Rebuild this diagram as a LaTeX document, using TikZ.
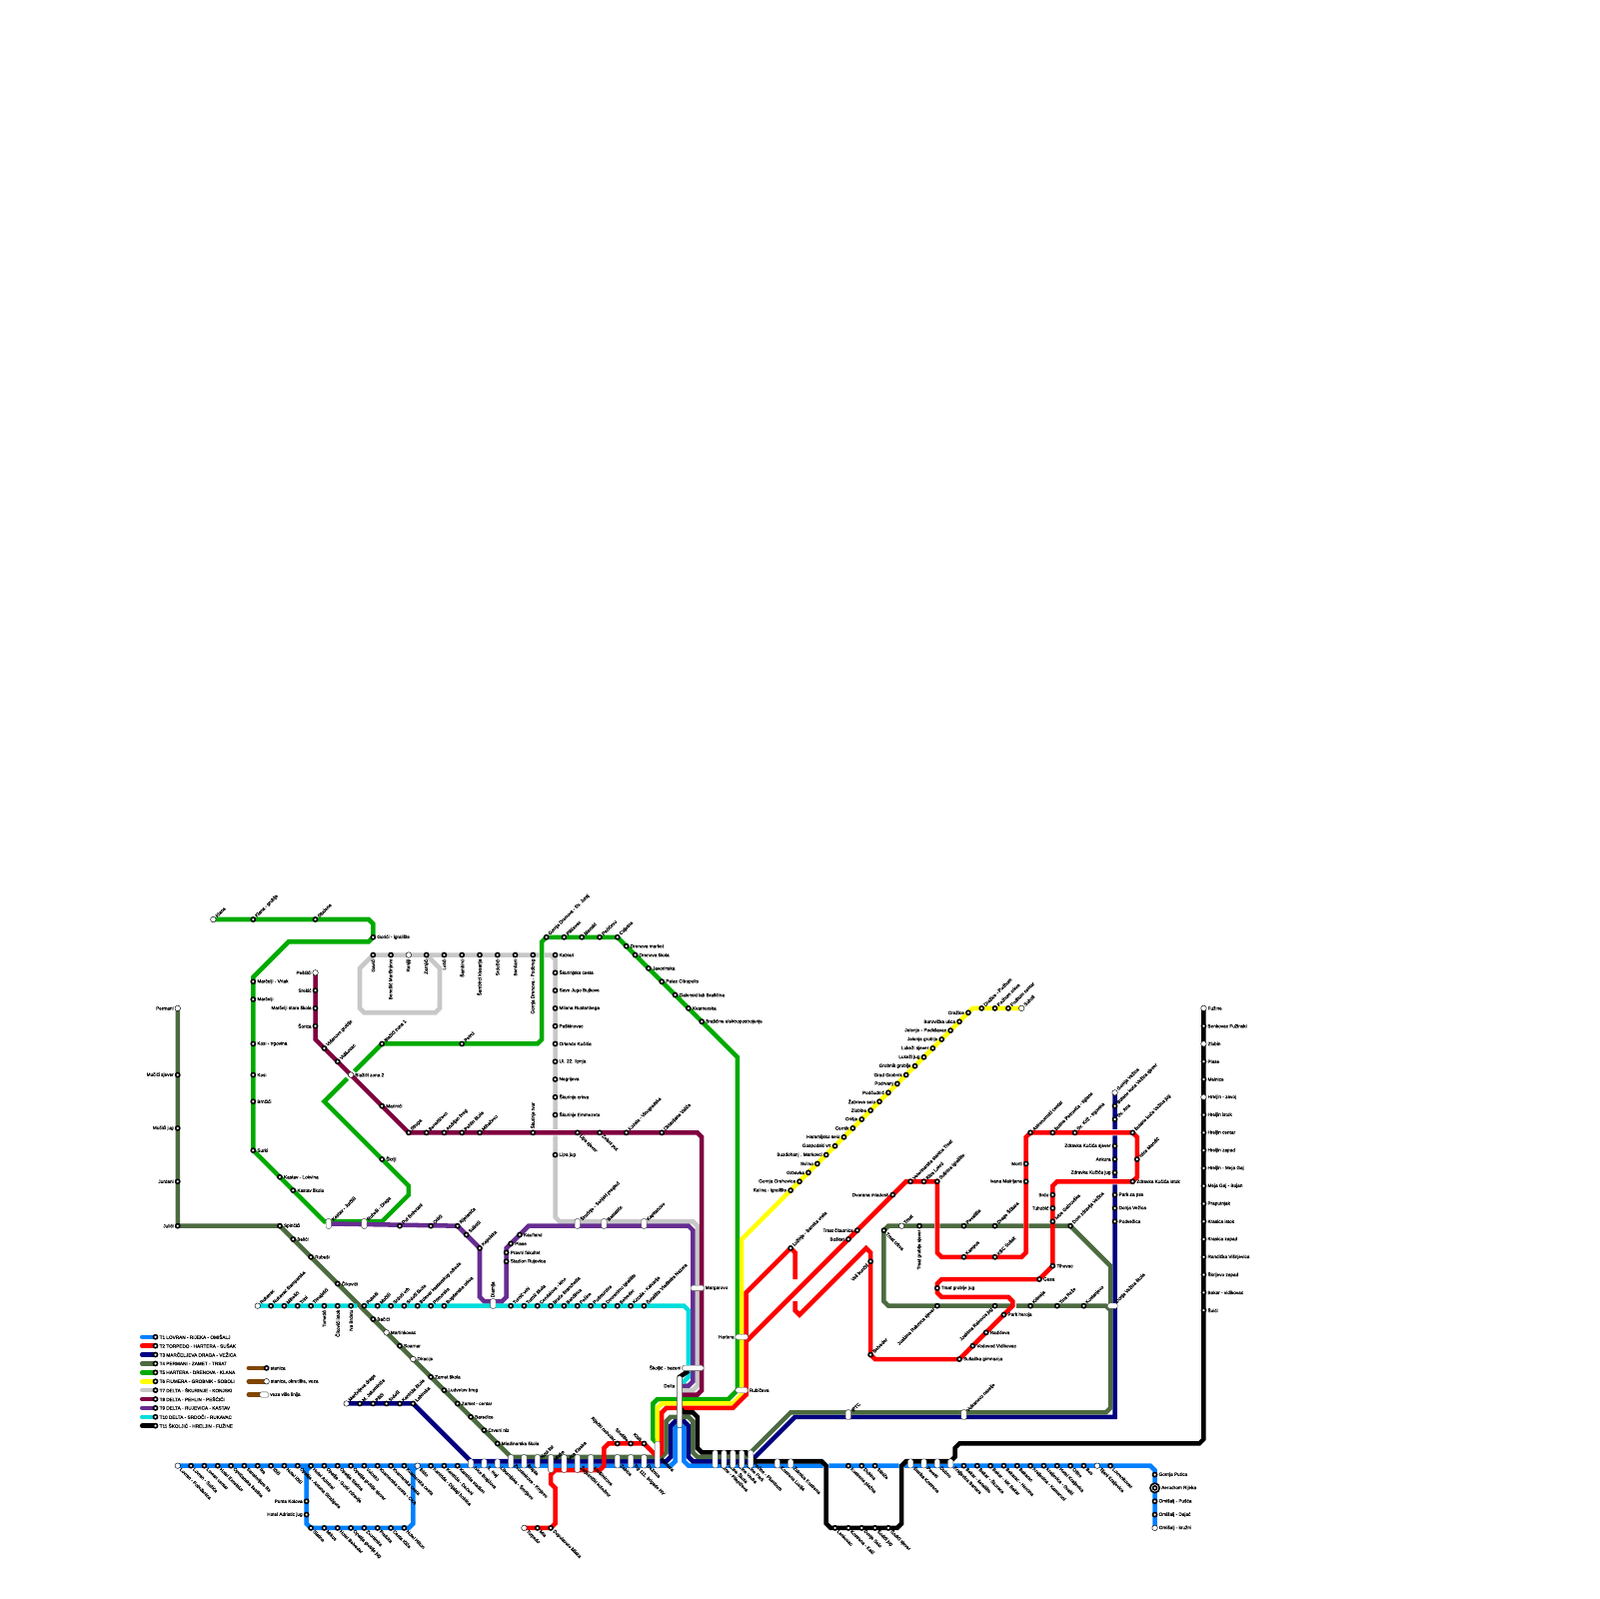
\documentclass[tikz,border=0pt]{standalone}
\usepackage{fontspec}
\setmainfont{Liberation Sans}
\newfontfamily\lblfont{Liberation Sans}[FakeBold=0.35]
\usetikzlibrary{backgrounds}
\definecolor{tone}{HTML}{0080FF}
\definecolor{ttwo}{HTML}{FF0000}
\definecolor{tthree}{HTML}{000080}
\definecolor{tfour}{HTML}{4C6B40}
\definecolor{tfive}{HTML}{00AA00}
\definecolor{tsix}{HTML}{FFFF00}
\definecolor{tseven}{HTML}{C8C8C8}
\definecolor{teight}{HTML}{800040}
\definecolor{tnine}{HTML}{662D91}
\definecolor{tten}{HTML}{00DDDD}
\definecolor{televen}{HTML}{000000}
\definecolor{legbrown}{HTML}{804500}
\tikzset{
    stop/.style={circle,draw=black,fill=white,line width=.36mm,minimum size=.92mm,inner sep=0},
    endstop/.style={stop,line width=.1mm,minimum size=1.25mm},
    pill/.style={rectangle,rounded corners=.35mm,draw=black!70,line width=.09mm,fill=white,inner sep=0},
    vpill/.style={pill,minimum width=1.2mm,minimum height=#1 mm},
    hpill/.style={pill,minimum height=1.2mm,minimum width=#1 mm},
    lab/.style={font=\lblfont\fontsize{3}{3.4}\selectfont,inner sep=.2mm,text=black},
    lE/.style={label={[lab]0:#1}},
    lW/.style={label={[lab]180:#1}},
    lNE/.style={label={[lab,rotate=45,anchor=west]45:#1}},
    lSE/.style={label={[lab,rotate=-45,anchor=west]-45:#1}},
    lSW/.style={label={[lab,rotate=45,anchor=east]225:#1}},
    lNW/.style={label={[lab,rotate=-45,anchor=east]135:#1}},
    lU/.style={label={[lab,rotate=90,anchor=west]90:#1}},
    lD/.style={label={[lab,rotate=90,anchor=east]-90:#1}},
    line/.style={line width=1.02mm}
}
\begin{document}
\begin{tikzpicture}[x=1mm,y=-1mm]
    \useasboundingbox (0,0) rectangle (360,360);

    % T1 stops
    \node[endstop,lSE={Lovran - Pobrđenica}] (s40-330) at (40,330) {};
    \foreach \px/\txt in {43/Lovran - Sučića,46/Lovran centar,49/Hotel Excelsior,52/Oprićanska šestina,55/Sanatorijum Ike,58/Ika,61/Ičići,64/Hotel Ičići,67/Opatija - Antona Stražgora,70/Hotel Admiral,73/Opatija - Gorić zdravlje,76/Opatija Slatina,79/Opatija groblje sjever,82/Volosko,85/Kvarnerska cesta - CKA,88/Kvarnerska cesta,91/Kvarnerska cesta,97/Kantrida - Dijalaji bolnica,100/Kantrida - Dećeni,103/Kantrida stadion,191/Kostrena plažna,194/Dubina,197/Stiniče,217/Bakar - šetalište,220/Bakar - Škoraca,223/Bakar - NK Bakar,226/Bakarac - Hercina,229/Bakarac,232/Kraljevica - Kamaroni,235/Kraljevica - Svalić,238/Hotel Kraljevica,241/Oštro,244/Bos,250/Lovrenkovac}
        \node[stop,lSE=\txt] (s\px-330) at (\px,330) {};
    \node[endstop,lSE=Bivio] (s94-330) at (94,330) {};
    \node[endstop,lSE=Tijani Kraljevica] (s247-330) at (247,330) {};
    \foreach \py/\txt in {338/Punta Kolova,341/Hotel Adriatic jug}
        \node[stop,lW=\txt] (s69-\py) at (69,\py) {};
    \foreach \px/\txt in {70/Slatina,73/Mrkus,76/Hotel Belveder,79/Opatija groblje jug,82/Zvonimira,85/Preluka,88/Cesta Ičića,91/Hotel Hilton}
        \node[stop,lSE=\txt] (s\px-344) at (\px,344) {};
    \foreach \py/\txt in {332/Gornja Putica,338/Omišalj - Pušća,341/Omišalj - Dajać}
        \node[stop,lE=\txt] (s260-\py) at (260,\py) {};
    \node[endstop,lE=Omišalj - kružni] (s260-344) at (260,344) {};
    \node[stop,minimum size=2.1mm,lE=Aerodrom Rijeka] (s260-335) at (260,335) {};
    \node[stop,fill=white,minimum size=.9mm] (s260-335i) at (260,335) {};

    % T2 stops
    \foreach \px/\py/\txt in {205/266/Veterinarska stanica Trsat,208/266/Riva Lokrd,211/266/Sušnica igralište,232/255/Astronomski centar,237/255/Butine Petrovića - tiglane,242/255/Sv. Križ - trgovina,255/255/Butane kuća Vežica jug,256/261/Ivice Mandić,178/281/Lužinje - Banska vrata,196/305/Belveder,217/283/Kampus,224/283/KBC Sušak}
        \node[stop,lNE=\txt] (s\px-\py) at (\px,\py) {};
    \foreach \px/\py/\txt in {255/266/Zdravka Kučića istok,237/285/Tihovac,234/288/Gesa,211/290/Trsat groblje jug,226/296/Park heroja,222/300/Radićeva,219/303/Vodovod Vidikovac,216/306/Sušačka gimnazija}
        \node[stop,lE=\txt] (s\px-\py) at (\px,\py) {};
    \foreach \px/\py/\txt in {201/269/Dvorana mladosti,193/277/Trsat čitaonica,191/279/Bošket,231/262/Morti,231/266/Ivana Matrljana,237/269/Brdo,237/272/Tuhobić}
        \node[stop,lW=\txt] (s\px-\py) at (\px,\py) {};
    \node[stop,lSW=Veli bunčić] (s196-284) at (196,284) {};
    \foreach \px/\txt in {139/Riječki neboder,142/Sirotište,145/Kisik}
        \node[stop,lNW=\txt] (s\px-325) at (\px,325) {};
    \node[endstop,lSE=Torpedo] (s118-344) at (118,344) {};
    \foreach \px/\txt in {121/Mia,124/Dopolavoro Mlaka}
        \node[stop,lSE=\txt] (s\px-344) at (\px,344) {};

    % T3 stops
    \node[endstop,lNE=Marčeljeva draga] (s78-316) at (78,316) {};
    \foreach \px/\txt in {81/M. Jakominića,84/Pilići,87/Srdoči,90/Kantrida škola,93/Labinska}
        \node[stop,lNE=\txt] (s\px-316) at (\px,316) {};
    \node[endstop,lNE=Gornja Vežica] (s251-246) at (251,246) {};
    \node[stop,lNE=Butane kuća Vežica sjever] (s251-249) at (251,249) {};
    \node[stop,lNE=Sv. Ana] (s251-252) at (251,252) {};
    \foreach \py/\txt in {258/Zdravka Kučića sjever,261/Ankora,264/Zdravka Kučića jug}
        \node[stop,lW=\txt] (s251-\py) at (251,\py) {};
    \foreach \py/\txt in {269/Park za pse,272/Donja Vežica,275/Podvežica}
        \node[stop,lE=\txt] (s251-\py) at (251,\py) {};

    % T4 stops
    \node[endstop,lW=Permani] (s40-227) at (40,227) {};
    \foreach \py/\txt in {242/Mučići sjever,254/Mučići jug,266/Jurdani,276/Julići}
        \node[stop,lW=\txt] (s40-\py) at (40,\py) {};
    \foreach \px/\py/\txt in {63/276/Spinčići,66/279/Belići,70/283/Rubeši,76/289/Čikovići,84/297/Bačići,90/303/Soarnar,97/310/Zamet škola,100/313/Ludvetov breg,103/316/Zamet - centar,106/319/Baredice,109/322/Crveni niz,112/325/Mladinarska škola}
        \node[stop,lE=\txt] (s\px-\py) at (\px,\py) {};
    \node[endstop,lE=Martinkovac] (s87-300) at (87,300) {};
    \node[endstop,lE=Diracije] (s93-306) at (93,306) {};
    \foreach \px/\py/\txt in {244/294/Kostanjevo,238/294/Tina Reže,232/294/Krimeja,217/276/Pevalište,224/276/Drage Ščitara,237/275/Ivice Gabrovška,241/276/Dom zdravlja Vežica}
        \node[stop,lNE=\txt] (s\px-\py) at (\px,\py) {};
    \node[stop,lSW=Joakima Rakovca sjever] (s211-294) at (211,294) {};
    \node[stop,lSW=Joakima Rakovca jug] (s224-294) at (224,294) {};
    \node[endstop,lNE=Trsat] (s203-276) at (203,276) {};
    \node[stop,lSE=Trsat crkva] (s199-277) at (199,277) {};
    \node[stop,lD=Trsat groblje sjever] (s207-276) at (207,276) {};

    % T5 stops
    \node[endstop,lNE=Klana] (s48-207) at (48,207) {};
    \foreach \px/\py/\txt in {57/207/Klana - groblje,71/207/Studena,86/235/Blažići zona 1,104/235/Petrci,123/211/Gornja Drenova - Sv. Juraj,127/211/Pilićevac,131/211/Blenski,135/211/Pećićevo,139/211/Cvijetna}
        \node[stop,lNE=\txt] (s\px-\py) at (\px,\py) {};
    \foreach \px/\py/\txt in {84/211/Gorići - igralište,57/221/Marčelji - Vrtak,57/225/Marčelji,57/235/Kosi - trgovina,57/242/Kosi,57/248/Brnčići,57/259/Surki,63/265/Kastav - Lokvina,66/268/Kastav škola,86/261/Škrlji,141/213/Drenova market,143/215/Drenova škola,146/218/Javorinska,149/221/Palac Citropolis,152/224/Galenski lab Brašćina,155/227/Kvarnerska,158/230/Brašćine elektropostrojenje}
        \node[stop,lE=\txt] (s\px-\py) at (\px,\py) {};

    % T6 stops
    \foreach \px/\py/\txt in {178/268/Kalina - igralište,180/266/Gornja Orehovica,182/264/Grbavka,184/262/Svilno,186/260/Buzdohanj . Markovci,188/258/Gospodski vrt,190/256/Haramijsko selo,192/254/Cernik,194/252/Orišje,196/250/Zlobine,198/248/Žabreve selo,200/246/Podčudnić,202/244/Podrvanj,204/242/Grad Grobnik,206/240/Grobnik groblje,208/238/Lukeži jug,210/236/Lukeži sjever,212/234/Jelenje groblje,214/232/Jelenje - Podkilavac,216/230/Borovička ulica,218/228/Dražice}
        \node[stop,lW=\txt] (s\px-\py) at (\px,\py) {};
    \foreach \px/\txt in {221/Dražice - Podhum,224/Podhum crkva,227/Podhum centar}
        \node[stop,lNE=\txt] (s\px-227) at (\px,227) {};
    \node[endstop,lNE=Soboli] (s230-227) at (230,227) {};

    % T7 stops
    \foreach \px/\txt in {84/Gavići,88/Benešić Marčinjevo,96/Zarnjići,100/Lotići,104/Šambirci,108/Šambirci klesarija,112/Srdočići,116/Benčani,120/Gornja Drenova - Podbreg}
        \node[stop,lD=\txt] (s\px-215) at (\px,215) {};
    \node[endstop,lD=Ranjiji] (s92-215) at (92,215) {};
    \foreach \py/\txt in {215/Kablari,219/Škurinjska cesta,223/Save Jugo Bujkove,227/Milana Rustanbega,231/Paškinovac,235/Orlando Kučića,239/Ul. 22. lipnja,243/Negrijeva,247/Škurinje crkva,251/Škurinje Emmezeta,260/Lipa jug}
        \node[stop,lE=\txt] (s125-\py) at (125,\py) {};

    % T8 stops
    \node[endstop,lW=Pešćići] (s71-219) at (71,219) {};
    \foreach \py/\txt in {223/Srekić,227/Marčelji stara škola,231/Šorica}
        \node[stop,lW=\txt] (s71-\py) at (71,\py) {};
    \foreach \px/\py/\txt in {73/236/Vidanovo groblje,76/239/Vidikovac,92/255/Struga,96/255/Benettićevo,100/255/Andrijan breg,104/255/Pehlin škola,108/255/Mihačevo,141/255/Kozala - Vinogradska,149/255/Oktavijana Valića}
        \node[stop,lNE=\txt] (s\px-\py) at (\px,\py) {};
    \node[endstop,lE=Blažići zona 2] (s79-242) at (79,242) {};
    \node[stop,lE=Marinići] (s86-249) at (86,249) {};
    \node[stop,lU=Škurinje tvor] (s120-255) at (120,255) {};
    \node[stop,lSE=Lipa sjever] (s130-255) at (130,255) {};
    \node[stop,lSE=Zeleni put] (s135-255) at (135,255) {};

    % T9 stops
    \foreach \px/\py/\txt in {90/276/Put Bobetani,97/276/Orlići,103/276/Rijetanića,105/278/Svilnići,108/281/Kapelska}
        \node[stop,lNE=\txt] (s\px-\py) at (\px,\py) {};
    \foreach \px/\py/\txt in {114/284/Stadion Rujevica,114/282/Pravni fakultet,115/280/Plase,117/278/Kaufland}
        \node[stop,lE=\txt] (s\px-\py) at (\px,\py) {};

    % T10 stops
    \node[endstop,lNE=Rukavac] (s58-294) at (58,294) {};
    \foreach \px/\txt in {61/Rukavac štamparska,64/Mihelići,67/Trini,70/Trinajstići,82/Rubeši,85/Mučići,88/Srdoči vrh,91/Srdoči škola,94/Bulevar kastavskog odreda,97/Primorska,100/Bogdanska crkva,115/Turnić vrhi,118/Turnić škola,121/Cendalova - kino,124/Braće Branchetta,127/Bandirica,130/Pećine,133/Podmurvice,136/Dvoranimo igralište,139/Belveder,142/Kozala - Kalvarija,145/Šetalište Vladimira Nazora}
        \node[stop,lNE=\txt] (s\px-294) at (\px,294) {};
    \foreach \px/\txt in {73/Tometići,76/Čikovići istok,79/Na Brdetu}
        \node[stop,lD=\txt] (s\px-294) at (\px,294) {};

    % T11 stops
    \node[endstop,lE=Fužine] (s271-227) at (271,227) {};
    \foreach \py/\txt in {231/Benkovac Fužinski,239/Plase,243/Melnice,251/Hreljin istok,255/Hreljin centar,259/Hreljin zapad,263/Hreljin - Meja Gaj,267/Meja Gaj - Bujan,271/Praputnjak,275/Krasica istok,279/Krasica zapad,283/Randićka Višnjevica,287/Škrljevo zapad,291/Bakar - vidikovac,295/Šoići}
        \node[stop,lE=\txt] (s271-\py) at (271,\py) {};
    \node[endstop,lE=Zlobin] (s271-235) at (271,235) {};
    \node[endstop,lE=Hreljin - zavoj] (s271-247) at (271,247) {};
    \foreach \px/\txt in {188/Lenkovac,191/Kostrena - Kaić,194/Donje Selo,197/Šodići jug,200/Šodići sjever}
        \node[stop,lSE=\txt] (s\px-344) at (\px,344) {};

    % Transfer pills
    \node[vpill=2.2,lNE=Kastav - Jurčići] (p74) at (74,275.5) {};
    \node[vpill=2.2,lNE=Rubeši - Draga] (p82) at (82,275.5) {};
    \foreach \px/\txt in {130/Škurinje - Senjski pregled,136/Bastatiće,145/Kapitanovo}
        \node[vpill=2.2,lNE=\txt] (p\px) at (\px,275.5) {};
    \node[vpill=2.2,lU=Diamija] (p111) at (111,293.5) {};
    \node[hpill=3,lE=Margarovo] (p157) at (157,290) {};
    \node[hpill=2.8,lW=Hartera] (p167a) at (167,301) {};
    \node[hpill=2.8,lE=Rubičeva] (p167b) at (167,313) {};
    \node[hpill=4.8,lW={Školjić - bazeni}] (p156) at (156,308) {};
    \node[vpill=11.6] (p153) at (153,315.6) {};
    \node[lab,anchor=east] (deltalab) at (152.2,312) {Delta};
    \node[hpill=2.2,lNE=Donja Vežica škola] (p250) at (250.5,294) {};
    \node[vpill=2.2,lNE=IPTC] (p191) at (191,318.5) {};
    \node[vpill=2.2,lNE=Vulkanovo naselje] (p217) at (217,318.5) {};
    \foreach \px/\txt in {106/Ivice Brajdova,109/3. maj,112/Liburnijska - Šmrijevo,175/Kostrena Lucija,178/Žuknica Kostrena,205/Šmrika Kostrena,208/Paveki,211/Dubno}
        \node[vpill=2,lSE=\txt] (p\px) at (\px,329.5) {};
    \node[vpill=2,lSE=Kraljevica Bartara] (p214) at (214,329.5) {};
    \foreach \px/\txt in {115/Zvonimirova - Krnjevo,118/Brajda,139/Zabica,142/Trg 111. brigade HV,145/Dežnica}
        \node[vpill=3,lSE=\txt] (p\px) at (\px,329) {};
    \node[vpill=3,lNE=Novi list] (p121) at (121,329) {};
    \node[vpill=4,lNE=Mlaka] (p124) at (124,329.5) {};
    \node[vpill=4,lNE=Ivica Kiseka] (p127) at (127,329.5) {};
    \node[vpill=4,lSE=Željeznički kolodvor] (p130) at (130,329.5) {};
    \node[vpill=4,lSE=Krešimirova] (p133) at (133,329.5) {};
    \node[vpill=6,lSE=Fiumara] (p148) at (148,327.5) {};
    \foreach \px/\txt in {161/Pećine - Pilepićeva,163/Pećine Škola,165/Pećine Vedra,167/Pećine Park,169/Pećine - Plumbum}
        \node[vpill=4,lSE=\txt] (p\px) at (\px,328.5) {};

    % Legend
    \foreach \n/\col/\txt in {1/tone/T1 LOVRAN - RIJEKA - OMIŠALJ,2/ttwo/T2 TORPEDO - HARTERA - SUŠAK,3/tthree/T3 MARČELJEVA DRAGA - VEŽICA,4/tfour/T4 PERMANI - ZAMET - TRSAT,5/tfive/T5 HARTERA - DRENOVA - KLANA,6/tsix/T6 FIUMERA - GROBNIK - SOBOLI,7/tseven/T7 DELTA - ŠKURINJE - KONJSKI,8/teight/T8 DELTA - PEHLIN - PEŠĆIĆI,9/tnine/T9 DELTA - RUJEVICA - KASTAV,10/tten/T10 DELTA - SRDOČI - RUKAVAC,11/televen/T11 ŠKOLJIĆ - HRELJIN - FUŽINE} {
        \node[stop,lE=\txt] (leg\n) at (35,299+2*\n) {};
        \coordinate (legs\n) at (32,299+2*\n);
        \begin{pgfonlayer}{background}
            \draw[line,\col,line cap=round] (legs\n) -- (leg\n.center);
        \end{pgfonlayer}
    }
    \node[stop,lE=stanica] (keya) at (60,308) {};
    \node[endstop,lE={stanica, okretište, veza}] (keyb) at (60,311) {};
    \node[hpill=2,lE=veza više linija] (keyc) at (59.5,314) {};
    \foreach \k/\py in {a/308,b/311,c/314} {
        \coordinate (keys\k) at (56,\py);
        \begin{pgfonlayer}{background}
            \draw[line,legbrown,line cap=round] (keys\k) -- (key\k.center);
        \end{pgfonlayer}
    }

    \begin{pgfonlayer}{background}
    % T1
    \draw[line,tone] (s40-330.center) -- (151,330) -- (152,329) -- (152,321) -- (154,321) -- (154,329) -- (155,330) -- (185.3,330)
        (186.6,330) -- (202.4,330) (203.6,330) -- (259,330) -- (260,331) -- (s260-344.center);
    \draw[line,tone] (68,330) -- (69,331) -- (69,343) -- (70,344) -- (92,344) -- (93,343) -- (93,331) -- (94,330)
        (70,330) -- (69,331) (92,330) -- (93,331);

    % T3
    \draw[line,tthree] (s78-316.center) -- (s93-316.center) -- (106,329) -- (150,329) -- (151,328) -- (151,321) -- (152,320) -- (154,320)
        -- (155,321) -- (155,328) -- (156,329) -- (169,329) -- (179,319) -- (251,319) -- (251,266.7)
        (251,265.3) -- (251,255.7) (251,254.3) -- (s251-246.center);

    % T4
    \draw[line,tfour] (s40-227.center) -- (s40-276.center) -- (s63-276.center) -- (115,328) -- (149,328) -- (150,327) -- (150,320)
        -- (151,319) -- (155,319) -- (156,320) -- (156,327) -- (157,328) -- (168,328) -- (178,318) -- (249,318) -- (250,317)
        -- (250,295) -- (249,294) -- (228.8,294) (227.5,294) -- (200,294) -- (199,293) -- (s199-277.center) -- (200,276)
        -- (210.4,276) (211.6,276) -- (230.4,276) (231.6,276) -- (s241-276.center) -- (250,285) -- (250,295);

    % T5
    \draw[line,tfive] (s48-207.center) -- (83,207) -- (84,208) -- (s84-211.center) -- (83,212) -- (65,212) -- (57,220) -- (s57-259.center)
        -- (73,275) -- (86,275) -- (92,269) -- (92,267) -- (73,248) -- (78.2,242.8) (79.8,241.2) -- (s86-235.center) -- (121,235)
        -- (122,234) -- (122,212) -- (s123-211.center) -- (s139-211.center) -- (166,238) -- (166,313) -- (164,315) -- (148,315)
        -- (147,316) -- (147,324) -- (148,325);

    % T6
    \draw[line,tsix] (s230-227.center) -- (219,227) -- (167,279) -- (167,314) -- (165,316) -- (149,316) -- (148,317) -- (148,325);

    % T2
    \draw[line,ttwo] (s118-344.center) -- (124,344) -- (125,343) -- (125,335) -- (124,334) -- (124,332) -- (125,331) -- (135,331)
        -- (136,330) -- (136,326) -- (137,325) -- (s145-325.center) -- (148,328) -- (149,327) -- (149,318) -- (150,317) -- (165,317)
        -- (168,314) -- (168,291) -- (s178-281.center) -- (179,282) -- (179,288);
    \draw[line,ttwo] (179,293) -- (179,295) -- (180,296) -- (195,281) -- (196,282) -- (s196-305.center) -- (197,306) -- (s216-306.center)
        -- (228,294) -- (228,293) -- (227,292) -- (212,292) -- (211,291) -- (211,289) -- (212,288) -- (s234-288.center) -- (s237-285.center)
        -- (237,267) -- (238,266) -- (s255-266.center) -- (256,265) -- (256,256) -- (s255-255.center) -- (s232-255.center) -- (231,256)
        -- (231,282) -- (230,283) -- (212,283) -- (211,282) -- (s211-266.center) -- (204,266) -- (168,302);

    % T7
    \draw[line,tseven] (s84-215.center) -- (121.4,215) (122.6,215) -- (124,215) -- (125,216) -- (125,254.3) (125,255.7) -- (125,274)
        -- (126,275) -- (156,275) -- (157,276) -- (157,312) -- (156,313) -- (153,313);
    \draw[line,tseven] (s84-215.center) -- (81,218) -- (81,227) -- (82,228) -- (98,228) -- (99,227) -- (99,218) -- (96,215);

    % T9
    \draw[line,tnine] (p74) -- (s103-276.center) -- (s108-281.center) -- (108,292) -- (109,293) -- (113,293) -- (114,292) -- (114,281)
        -- (119,276) -- (155,276) -- (156,277) -- (156,311) -- (155,312) -- (153,312);

    % T10
    \draw[line,tten] (s58-294.center) -- (80.4,294) (81.6,294) -- (154,294) -- (155,295) -- (155,310) -- (154,311) -- (153,311);

    % T8
    \draw[line,teight] (s71-219.center) -- (71,234) -- (s92-255.center) -- (157,255) -- (158,256) -- (158,313) -- (157,314) -- (153,314);

    % T11
    \draw[line,televen] (p156) -- (153,310) -- (153,317) -- (154,318) -- (156,318) -- (157,319) -- (157,326) -- (158,327) -- (168,327)
        -- (170,329) -- (185,329) -- (186,330) -- (186,343) -- (187,344) -- (202,344) -- (203,343) -- (203,330) -- (204,329) -- (214,329)
        -- (215,328) -- (215,326) -- (216,325) -- (270,325) -- (271,324) -- (s271-227.center);
    \end{pgfonlayer}
\end{tikzpicture}
\end{document}
